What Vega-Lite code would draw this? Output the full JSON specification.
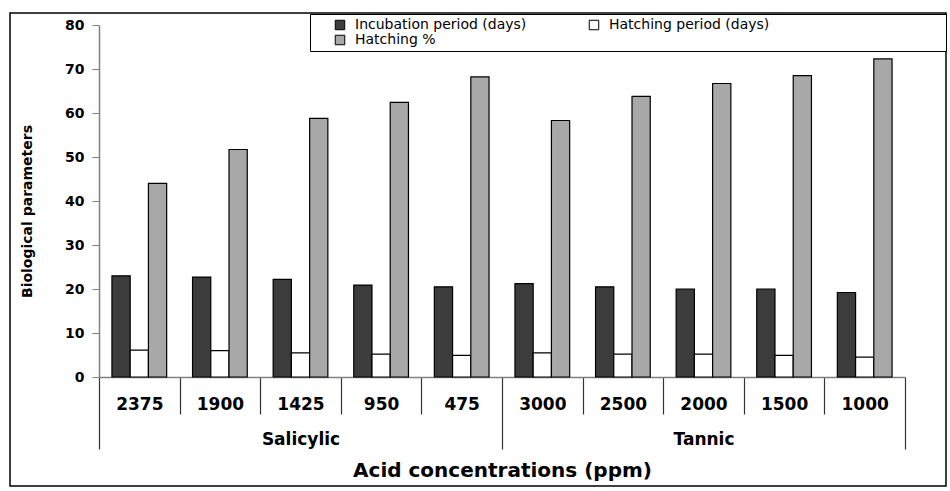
{
  "$schema": "https://vega.github.io/schema/vega-lite/v6.json",
  "width": 936,
  "height": 473,
  "autosize": "none",
  "padding": {"left": 10, "top": 13, "right": 4, "bottom": 5},
  "background": "white",
  "config": {"view": {"stroke": "black", "strokeWidth": 1.5}, "font": "DejaVu Sans", "legend": {"strokeWidth": 1}},
  "data": {"values": [
    {"acid": "Salicylic", "conc": "2375", "parameter": "Incubation period (days)", "value": 23.0},
    {"acid": "Salicylic", "conc": "2375", "parameter": "Hatching period (days)", "value": 6.1},
    {"acid": "Salicylic", "conc": "2375", "parameter": "Hatching %", "value": 44.0},
    {"acid": "Salicylic", "conc": "1900", "parameter": "Incubation period (days)", "value": 22.7},
    {"acid": "Salicylic", "conc": "1900", "parameter": "Hatching period (days)", "value": 6.0},
    {"acid": "Salicylic", "conc": "1900", "parameter": "Hatching %", "value": 51.7},
    {"acid": "Salicylic", "conc": "1425", "parameter": "Incubation period (days)", "value": 22.2},
    {"acid": "Salicylic", "conc": "1425", "parameter": "Hatching period (days)", "value": 5.5},
    {"acid": "Salicylic", "conc": "1425", "parameter": "Hatching %", "value": 58.8},
    {"acid": "Salicylic", "conc": "950", "parameter": "Incubation period (days)", "value": 20.9},
    {"acid": "Salicylic", "conc": "950", "parameter": "Hatching period (days)", "value": 5.2},
    {"acid": "Salicylic", "conc": "950", "parameter": "Hatching %", "value": 62.4},
    {"acid": "Salicylic", "conc": "475", "parameter": "Incubation period (days)", "value": 20.5},
    {"acid": "Salicylic", "conc": "475", "parameter": "Hatching period (days)", "value": 4.9},
    {"acid": "Salicylic", "conc": "475", "parameter": "Hatching %", "value": 68.2},
    {"acid": "Tannic", "conc": "3000", "parameter": "Incubation period (days)", "value": 21.2},
    {"acid": "Tannic", "conc": "3000", "parameter": "Hatching period (days)", "value": 5.5},
    {"acid": "Tannic", "conc": "3000", "parameter": "Hatching %", "value": 58.3},
    {"acid": "Tannic", "conc": "2500", "parameter": "Incubation period (days)", "value": 20.5},
    {"acid": "Tannic", "conc": "2500", "parameter": "Hatching period (days)", "value": 5.2},
    {"acid": "Tannic", "conc": "2500", "parameter": "Hatching %", "value": 63.8},
    {"acid": "Tannic", "conc": "2000", "parameter": "Incubation period (days)", "value": 20.0},
    {"acid": "Tannic", "conc": "2000", "parameter": "Hatching period (days)", "value": 5.2},
    {"acid": "Tannic", "conc": "2000", "parameter": "Hatching %", "value": 66.7},
    {"acid": "Tannic", "conc": "1500", "parameter": "Incubation period (days)", "value": 20.0},
    {"acid": "Tannic", "conc": "1500", "parameter": "Hatching period (days)", "value": 4.9},
    {"acid": "Tannic", "conc": "1500", "parameter": "Hatching %", "value": 68.5},
    {"acid": "Tannic", "conc": "1000", "parameter": "Incubation period (days)", "value": 19.2},
    {"acid": "Tannic", "conc": "1000", "parameter": "Hatching period (days)", "value": 4.5},
    {"acid": "Tannic", "conc": "1000", "parameter": "Hatching %", "value": 72.3}
  ]},
  "mark": {"type": "bar", "stroke": "black", "strokeWidth": 1.2},
  "encoding": {
    "x": {
      "field": "conc",
      "type": "nominal",
      "sort": ["2375", "1900", "1425", "950", "475", "3000", "2500", "2000", "1500", "1000"],
      "scale": {"range": [89, 895], "paddingInner": 0, "paddingOuter": 0},
      "axis": {
        "orient": "bottom",
        "offset": -109,
        "title": "Acid concentrations (ppm)",
        "labelAngle": 0,
        "tickBand": "extent",
        "tickSize": {"condition": {"test": "datum.extra || datum.value === '475' || datum.value === '1000'", "value": 72}, "value": 37},
        "tickColor": "#333333",
        "tickWidth": 1.2,
        "domainColor": "#808080",
        "domainWidth": 1.5,
        "labelFont": "DejaVu Sans",
        "labelFontWeight": "bold",
        "labelFontSize": 17,
        "labelColor": "black",
        "labelPadding": {"condition": {"test": "datum.value === '475' || datum.value === '1000'", "value": -53}, "value": -18},
        "labelLineHeight": 35,
        "labelExpr": "datum.value === '1425' ? ['1425', 'Salicylic'] : datum.value === '2000' ? ['2000', 'Tannic'] : datum.label",
        "titleFont": "DejaVu Sans",
        "titleFontSize": 20,
        "titleFontWeight": "bold",
        "titleColor": "black",
        "titleY": 93,
        "titleBaseline": "middle"
      }
    },
    "xOffset": {
      "field": "parameter",
      "type": "nominal",
      "sort": ["Incubation period (days)", "Hatching period (days)", "Hatching %"],
      "scale": {"paddingInner": 0, "paddingOuter": 0.71}
    },
    "y": {
      "field": "value",
      "type": "quantitative",
      "scale": {"domain": [0, 80], "range": [364, 12], "nice": false},
      "axis": {
        "offset": -89,
        "values": [0, 10, 20, 30, 40, 50, 60, 70, 80],
        "title": "Biological parameters",
        "grid": false,
        "tickSize": 7,
        "tickColor": "#808080",
        "domainColor": "#808080",
        "domainWidth": 1.5,
        "labelFont": "DejaVu Sans",
        "labelFontWeight": "bold",
        "labelFontSize": 14,
        "labelColor": "black",
        "labelPadding": 8,
        "titleFont": "DejaVu Sans",
        "titleFontSize": 14,
        "titleFontWeight": "bold",
        "titleColor": "black",
        "titleX": -72,
        "titleY": 198,
        "titleAngle": -90,
        "titleBaseline": "middle",
        "titleAlign": "center"
      }
    },
    "color": {
      "field": "parameter",
      "type": "nominal",
      "sort": ["Incubation period (days)", "Hatching period (days)", "Hatching %"],
      "scale": {"domain": ["Incubation period (days)", "Hatching period (days)", "Hatching %"], "range": ["#3c3c3c", "#ffffff", "#a8a8a8"]},
      "legend": {
        "title": " ",
        "titleOrient": "right",
        "titlePadding": 173,
        "orient": "none",
        "legendX": 300,
        "legendY": 1,
        "columns": 2,
        "direction": "horizontal",
        "columnPadding": 41,
        "rowPadding": 1,
        "padding": 4,
        "fillColor": "white",
        "strokeColor": "black",
        "symbolType": "square",
        "symbolSize": 90,
        "symbolStrokeColor": "black",
        "symbolStrokeWidth": 1,
        "labelFont": "DejaVu Sans",
        "labelFontSize": 14,
        "labelColor": "black",
        "labelOffset": 8,
        "symbolOffset": 19,
        "labelLimit": 400
      }
    }
  }
}
